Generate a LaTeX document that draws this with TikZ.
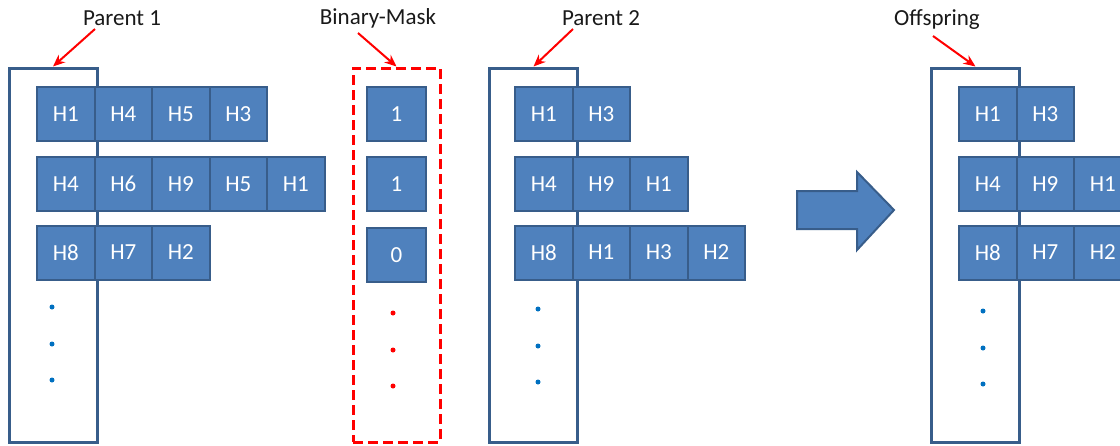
\documentclass[tikz,border=0pt]{standalone}
\usepackage{fontspec}
\setmainfont{Carlito}
\usetikzlibrary{arrows.meta}
\definecolor{cellfill}{RGB}{79,129,189}
\definecolor{cellline}{RGB}{56,93,138}
\definecolor{dotblue}{RGB}{0,112,192}
\tikzset{
    cell/.style={draw=cellline, fill=cellfill, line width=2pt, minimum width=57.5pt,
        minimum height=54pt, inner sep=0pt, text=white, font=\fontsize{23}{26}\selectfont},
    frame/.style={draw=cellline, line width=3pt, minimum width=88pt, minimum height=374pt, inner sep=0pt},
    maskframe/.style={draw=red, line width=3pt, dash pattern=on 10pt off 5pt,
        minimum width=87pt, minimum height=374pt, inner sep=0pt},
    lbl/.style={inner sep=0pt, text=black!90, font=\fontsize{23}{26}\selectfont},
    pointer/.style={-{Stealth[length=12pt,width=10pt]}, red, line width=2pt}
}
\begin{document}
\begin{tikzpicture}[x=1pt,y=-1pt]
    \useasboundingbox (0,0) rectangle (1120,445);

    % Cadres
    \node[frame] (p1) at (53,255) {};
    \node[maskframe] (mask) at (396.5,255) {};
    \node[frame] (p2) at (533.5,255) {};
    \node[frame] (off) at (975.5,255) {};

    % Titres et fleches
    \node[lbl] (tp1) at (122,18) {Parent 1};
    \node[lbl] (tmask) at (378,18) {Binary-Mask};
    \node[lbl] (tp2) at (601,18) {Parent 2};
    \node[lbl] (toff) at (937,20) {Offspring};
    \draw[pointer] ([xshift=-27pt,yshift=-11pt]tp1.center) -- (p1.north);
    \draw[pointer] ([xshift=-20pt,yshift=-15pt]tmask.center) -- (mask.north);
    \draw[pointer] ([xshift=-28pt,yshift=-11pt]tp2.center) -- (p2.north);
    \draw[pointer] ([xshift=-4pt,yshift=-16pt]toff.center) -- (off.north);

    % Parent 1
    \foreach \t [count=\i] in {H1,H4,H5,H3}
        \node[cell] (p1-1-\i) at ({65.75+57.5*(\i-1)},114) {\t};
    \foreach \t [count=\i] in {H4,H6,H9,H5,H1}
        \node[cell] (p1-2-\i) at ({65.75+57.5*(\i-1)},184) {\t};
    \foreach \t [count=\i] in {H8,H7,H2}
        \node[cell] (p1-3-\i) at ({65.75+57.5*(\i-1)},252.5) {\t};

    % Masque binaire
    \foreach \t/\y [count=\i] in {1/114,1/184,0/255}
        \node[cell, minimum width=59pt] (m-\i) at (396.5,\y) {\t};

    % Parent 2
    \foreach \t [count=\i] in {H1,H3}
        \node[cell] (p2-1-\i) at ({543.75+57.5*(\i-1)},114) {\t};
    \foreach \t [count=\i] in {H4,H9,H1}
        \node[cell] (p2-2-\i) at ({543.75+57.5*(\i-1)},184) {\t};
    \foreach \t [count=\i] in {H8,H1,H3,H2}
        \node[cell] (p2-3-\i) at ({543.75+57.5*(\i-1)},252.5) {\t};

    % Enfant
    \foreach \t [count=\i] in {H1,H3}
        \node[cell] (o-1-\i) at ({987.75+57.5*(\i-1)},114) {\t};
    \foreach \t [count=\i] in {H4,H9,H1}
        \node[cell] (o-2-\i) at ({987.75+57.5*(\i-1)},184) {\t};
    \foreach \t [count=\i] in {H8,H7,H2}
        \node[cell] (o-3-\i) at ({987.75+57.5*(\i-1)},252.5) {\t};

    % Points de suspension
    \foreach \y in {307,344,380} {
        \fill[dotblue] (52,\y) circle (2.5);
        \fill[red] (393,\y+6) circle (2.5);
        \fill[dotblue] (538,\y+2) circle (2.5);
        \fill[dotblue] (983,\y+4) circle (2.5);
    }

    % Grosse fleche
    \draw[cellline, fill=cellfill, line width=2pt, line join=miter]
        (797,191) -- (857,191) -- (857,172) -- (894,210) -- (857,250) -- (857,229) -- (797,229) -- cycle;
\end{tikzpicture}
\end{document}
